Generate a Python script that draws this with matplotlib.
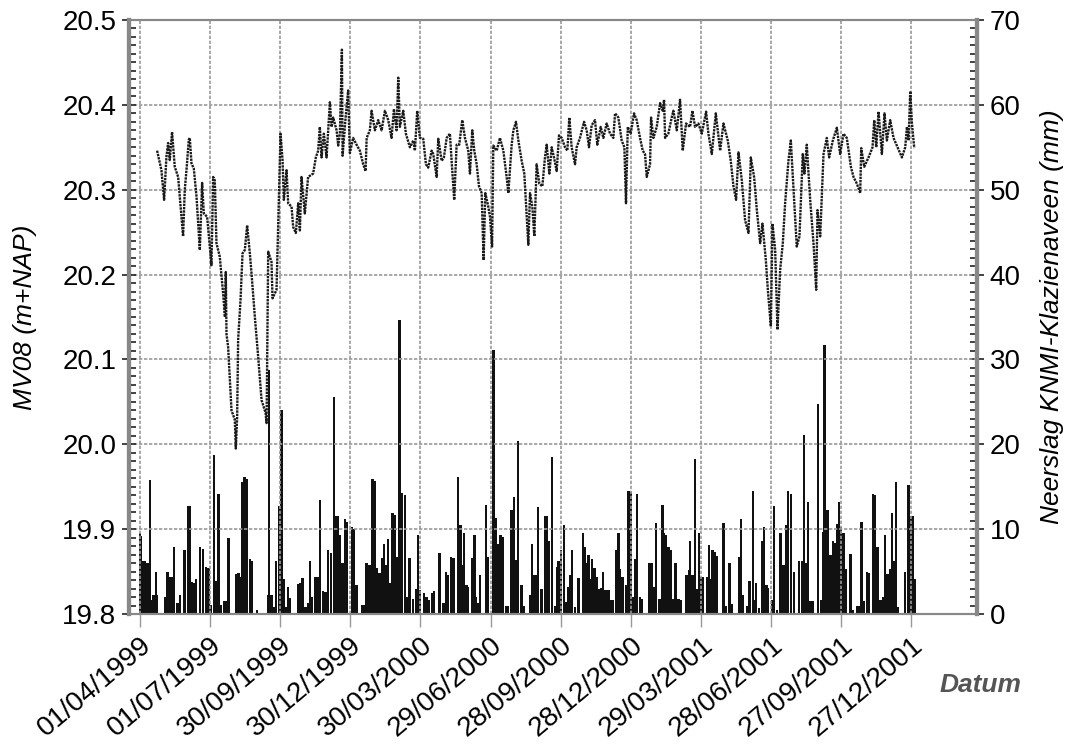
import matplotlib
matplotlib.use('Agg')
import matplotlib.pyplot as plt
from matplotlib.ticker import MultipleLocator
import numpy as np
import pandas as pd

plt.rcParams['font.family'] = ['Liberation Sans', 'DejaVu Sans']

start = pd.Timestamp('1999-04-01')

# grondwaterstand MV08 (m+NAP), dag na 01/04/1999
lvl_day = [22.5, 28.1, 31.6, 34.6, 36.8, 38.9, 41.9, 45.4, 49.8, 51.9, 56.2, 58.4, 60.6, 63.6,
           64.9, 67.1, 70.1, 73.6, 77.9, 80.9, 83.1, 87.4, 90.9, 93.0, 95.2, 97.3, 99.5, 103.8,
           108.1, 110.5, 111.6, 112.5, 114.6, 119.0, 123.3, 124.6, 126.3, 127.6, 130.7, 133.3,
           136.3, 139.3, 142.8, 145.0, 149.3, 153.6, 158.0, 163.2, 164.5, 166.6, 170.9, 172.2,
           177.4, 180.8, 182.6, 185.2, 186.9, 190.4, 192.5, 196.9, 199.0, 202.5, 205.5, 207.7,
           209.8, 214.1, 218.4, 224.9, 228.4, 231.4, 233.6, 235.8, 238.8, 242.3, 246.6, 248.8,
           250.9, 255.3, 257.4, 259.6, 262.2, 263.1, 267.0, 270.3, 272.5, 276.8, 281.2, 285.5,
           289.8, 292.9, 294.3, 298.5, 300.7, 305.0, 309.3, 313.7, 318.0, 322.3, 326.6, 329.7,
           333.1, 335.3, 337.4, 341.8, 345.2, 350.4, 354.8, 356.9, 359.9, 363.4, 367.7, 371.2,
           374.2, 378.6, 380.7, 385.1, 387.2, 391.6, 394.5, 398.1, 402.3, 404.5, 407.9, 411.0,
           414.4, 418.3, 421.8, 426.1, 428.3, 431.3, 433.9, 437.0, 440.0, 443.5, 446.0, 448.2,
           452.1, 454.3, 457.0, 458.6, 463.0, 467.2, 471.6, 475.9, 478.1, 482.4, 484.6, 488.0,
           491.1, 495.4, 498.8, 501.0, 504.0, 506.2, 509.2, 511.8, 514.8, 518.3, 522.2, 525.6,
           527.8, 531.3, 534.3, 537.3, 540.8, 543.8, 547.3, 551.6, 554.6, 557.2, 560.2, 564.6,
           566.7, 571.0, 576.3, 579.7, 582.7, 586.2, 590.5, 593.5, 597.9, 601.3, 605.6, 610.0,
           614.3, 616.5, 620.8, 625.1, 628.6, 630.7, 633.0, 636.8, 641.1, 644.6, 648.9, 652.4,
           655.4, 657.6, 661.9, 663.2, 666.2, 670.6, 674.9, 678.4, 680.1, 681.4, 685.6, 690.0,
           692.2, 696.6, 700.8, 704.3, 708.6, 713.8, 716.8, 720.3, 724.6, 729.0, 734.6, 737.6,
           742.0, 747.2, 752.8, 757.1, 762.7, 766.6, 770.1, 773.5, 776.6, 780.9, 785.2, 789.6,
           792.6, 796.9, 800.4, 804.7, 807.7, 812.1, 814.7, 818.6, 820.7, 824.2, 827.2, 830.6,
           834.1, 837.1, 841.4, 844.5, 847.1, 850.1, 852.2, 855.7, 860.0, 862.2, 865.2, 869.6,
           873.9, 877.4, 879.1, 882.6, 886.9, 891.2, 894.2, 899.0, 904.2, 908.5, 912.8, 917.1,
           922.4, 925.8, 930.2, 934.5, 935.8, 939.7, 945.3, 950.5, 952.7, 955.3, 958.3, 962.6,
           966.0, 969.1, 973.4, 977.7, 982.9, 988.6, 992.9, 995.1, 997.2, 999.4, 1001.6, 1004.6]
lvl_val = [20.346, 20.323, 20.288, 20.339, 20.355, 20.335, 20.368, 20.327, 20.315, 20.292, 20.245,
           20.300, 20.323, 20.359, 20.361, 20.331, 20.325, 20.292, 20.229, 20.308, 20.272, 20.268,
           20.233, 20.211, 20.315, 20.311, 20.237, 20.221, 20.178, 20.150, 20.203, 20.130, 20.115,
           20.040, 20.029, 19.995, 20.031, 20.123, 20.170, 20.225, 20.229, 20.258, 20.225, 20.201,
           20.150, 20.103, 20.052, 20.037, 20.025, 20.227, 20.215, 20.172, 20.182, 20.300, 20.366,
           20.335, 20.288, 20.323, 20.284, 20.280, 20.256, 20.249, 20.284, 20.252, 20.315, 20.272,
           20.315, 20.319, 20.338, 20.346, 20.374, 20.338, 20.366, 20.338, 20.403, 20.374, 20.385,
           20.370, 20.352, 20.366, 20.465, 20.340, 20.385, 20.417, 20.343, 20.361, 20.353, 20.346,
           20.330, 20.322, 20.361, 20.370, 20.393, 20.370, 20.382, 20.370, 20.393, 20.382, 20.361,
           20.395, 20.370, 20.432, 20.374, 20.393, 20.366, 20.350, 20.358, 20.346, 20.393, 20.361,
           20.360, 20.330, 20.326, 20.346, 20.342, 20.315, 20.360, 20.334, 20.338, 20.361, 20.366,
           20.334, 20.288, 20.353, 20.353, 20.382, 20.361, 20.346, 20.319, 20.370, 20.346, 20.330,
           20.304, 20.296, 20.217, 20.296, 20.280, 20.268, 20.233, 20.352, 20.346, 20.361, 20.346,
           20.315, 20.296, 20.353, 20.370, 20.380, 20.358, 20.334, 20.319, 20.284, 20.235, 20.296,
           20.280, 20.245, 20.330, 20.307, 20.304, 20.338, 20.353, 20.319, 20.350, 20.338, 20.322,
           20.364, 20.361, 20.350, 20.346, 20.385, 20.350, 20.330, 20.350, 20.361, 20.380, 20.370,
           20.350, 20.376, 20.382, 20.353, 20.374, 20.361, 20.378, 20.366, 20.361, 20.390, 20.385,
           20.358, 20.350, 20.284, 20.374, 20.366, 20.390, 20.382, 20.361, 20.346, 20.342, 20.315,
           20.330, 20.385, 20.361, 20.374, 20.402, 20.393, 20.406, 20.361, 20.366, 20.385, 20.393,
           20.370, 20.406, 20.346, 20.378, 20.374, 20.393, 20.374, 20.378, 20.366, 20.392, 20.366,
           20.342, 20.390, 20.346, 20.378, 20.358, 20.334, 20.304, 20.288, 20.344, 20.311, 20.264,
           20.249, 20.338, 20.315, 20.276, 20.237, 20.260, 20.217, 20.182, 20.139, 20.260, 20.229,
           20.135, 20.205, 20.237, 20.284, 20.334, 20.358, 20.315, 20.268, 20.233, 20.245, 20.342,
           20.319, 20.353, 20.288, 20.237, 20.182, 20.276, 20.245, 20.342, 20.361, 20.338, 20.358,
           20.373, 20.342, 20.366, 20.361, 20.327, 20.315, 20.307, 20.296, 20.349, 20.327, 20.338,
           20.350, 20.382, 20.350, 20.392, 20.342, 20.390, 20.358, 20.382, 20.361, 20.350, 20.338,
           20.350, 20.374, 20.358, 20.416, 20.378, 20.349]

# neerslag KNMI-Klazienaveen (mm), dag na 01/04/1999
rain_day = [0, 2, 4, 7, 10, 13, 15, 18, 21, 22, 33, 36, 39, 41, 44, 49, 52, 57, 59, 63, 65, 67, 70,
            73, 78, 82, 86, 89, 92, 96, 99, 102, 105, 109, 112, 115, 125, 128, 130, 133, 136, 139,
            143, 146, 152, 166, 168, 171, 174, 177, 181, 184, 187, 189, 192, 195, 205, 208, 211,
            215, 218, 221, 223, 228, 231, 234, 238, 241, 244, 248, 252, 254, 257, 260, 263, 266,
            269, 275, 278, 281, 288, 291, 294, 298, 302, 305, 308, 311, 314, 317, 319, 322, 325,
            328, 331, 334, 337, 340, 344, 347, 350, 354, 358, 361, 363, 369, 372, 375, 379, 382,
            389, 394, 397, 400, 404, 407, 413, 416, 419, 421, 424, 426, 431, 434, 436, 438, 441,
            449, 452, 459, 462, 465, 468, 471, 475, 478, 482, 485, 488, 491, 495, 498, 506, 509,
            512, 514, 517, 521, 526, 528, 530, 535, 539, 541, 543, 546, 550, 553, 556, 558, 561,
            565, 569, 575, 577, 579, 582, 584, 587, 590, 593, 596, 598, 601, 604, 608, 610, 613,
            618, 621, 623, 626, 631, 634, 637, 639, 642, 645, 649, 651, 661, 664, 667, 670, 674,
            678, 680, 683, 686, 689, 692, 695, 699, 702, 709, 712, 714, 717, 720, 723, 725, 728,
            731, 736, 738, 740, 743, 746, 749, 757, 760, 765, 768, 777, 780, 782, 788, 791, 795,
            797, 799, 803, 807, 810, 813, 815, 820, 823, 827, 831, 835, 838, 841, 845, 849, 855,
            859, 862, 865, 867, 870, 873, 880, 884, 886, 888, 891, 893, 896, 899, 902, 905, 907,
            910, 913, 916, 922, 925, 930, 933, 936, 939, 943, 946, 951, 954, 957, 961, 964, 967,
            970, 973, 976, 979, 981, 983, 993, 997, 1000, 1003, 1006]
rain_mm = [9.5, 9.2, 6.2, 6.2, 6.0, 15.8, 1.6, 2.2, 4.9, 2.2, 2.0, 4.9, 4.4, 4.4, 7.9, 1.3, 2.2, 7.5,
           7.5, 12.7, 12.7, 3.8, 3.6, 4.1, 7.9, 7.7, 5.6, 5.4, 1.1, 18.7, 3.9, 14.2, 1.1, 1.5, 1.5,
           8.9, 4.7, 4.8, 4.4, 15.5, 16.2, 15.9, 6.5, 6.2, 0.5, 2.2, 28.8, 2.2, 0.8, 6.3, 12.7, 24.0,
           4.1, 0.8, 3.2, 1.9, 3.5, 3.6, 4.2, 0.8, 1.3, 6.3, 2.0, 4.4, 4.4, 13.4, 2.7, 2.6, 7.5, 7.2,
           25.6, 11.5, 11.5, 9.3, 6.0, 11.2, 10.9, 10.3, 10.0, 3.4, 1.1, 1.1, 6.0, 5.8, 15.9, 15.7,
           5.4, 4.8, 6.6, 8.2, 5.8, 8.8, 3.6, 11.9, 11.7, 6.7, 34.6, 14.3, 14.0, 2.0, 6.6, 1.8, 3.0,
           9.3, 2.8, 2.5, 2.0, 1.7, 2.5, 2.7, 7.2, 1.3, 5.0, 4.6, 6.7, 6.6, 16.2, 10.5, 5.8, 9.5,
           3.4, 3.2, 6.6, 9.3, 2.0, 1.3, 4.6, 12.8, 6.7, 31.1, 11.3, 8.2, 9.3, 9.1, 0.9, 0.9, 12.2,
           13.8, 6.4, 20.4, 3.4, 1.0, 2.2, 8.2, 4.6, 4.6, 12.6, 3.0, 11.5, 11.5, 8.6, 18.5, 0.9,
           5.6, 6.2, 7.5, 10.5, 1.4, 3.2, 4.6, 7.5, 0.8, 4.2, 9.5, 7.9, 6.0, 6.9, 4.1, 6.5, 5.4,
           4.4, 3.0, 3.1, 4.9, 2.8, 2.8, 1.7, 1.7, 7.5, 9.5, 5.3, 4.4, 3.4, 14.5, 14.4, 2.0, 6.5,
           14.2, 2.0, 1.8, 6.0, 6.0, 3.2, 10.7, 1.8, 12.9, 9.5, 9.3, 7.9, 7.6, 1.8, 6.0, 1.8, 1.6,
           4.6, 5.2, 8.6, 4.6, 18.3, 3.0, 9.5, 4.4, 4.4, 4.4, 8.1, 4.1, 7.5, 7.3, 6.8, 10.7, 1.0,
           6.0, 1.2, 6.7, 11.2, 2.2, 1.0, 3.9, 14.5, 1.6, 3.6, 0.7, 8.6, 10.3, 3.4, 3.1, 1.6, 12.7,
           0.5, 9.5, 5.8, 10.5, 14.5, 14.2, 5.0, 6.2, 6.2, 21.1, 6.0, 13.2, 1.5, 1.5, 24.8, 1.7,
           9.7, 31.7, 12.3, 12.3, 6.9, 8.6, 8.4, 10.6, 13.2, 10.3, 9.6, 5.3, 7.1, 0.5, 1.0, 1.0,
           10.8, 1.5, 5.0, 4.8, 14.2, 14.0, 7.9, 1.6, 2.0, 9.3, 4.7, 5.3, 11.9, 6.3, 15.5, 0.8,
           4.9, 15.2, 11.6, 11.5, 4.1]

lvl_dates = start + pd.to_timedelta(lvl_day, unit='D')
rain_dates = start + pd.to_timedelta(rain_day, unit='D')
tick_dates = [start + pd.Timedelta(days=91 * i) for i in range(12)]

fig = plt.figure(figsize=(10.81, 7.45), dpi=100)
ax1 = fig.add_axes([0.1193, 0.1758, 0.7845, 0.7974])
ax2 = ax1.twinx()

ax2.bar(rain_dates, rain_mm, width=3.0, color='#111111', align='center', zorder=2)
ax1.plot(lvl_dates, lvl_val, color='#1a1a1a', lw=1.7, linestyle=(0, (1, 0.4)), zorder=3)

ax1.set_zorder(ax2.get_zorder() + 1)
ax1.patch.set_visible(False)

ax1.set_ylim(19.8, 20.5)
ax2.set_ylim(0, 70)
ax1.set_xlim(start - pd.Timedelta(days=14), start + pd.Timedelta(days=1086))

ax1.yaxis.set_minor_locator(MultipleLocator(0.01))
ax2.yaxis.set_major_locator(MultipleLocator(10))
ax2.yaxis.set_minor_locator(MultipleLocator(1))
ax1.set_yticks(np.arange(19.8, 20.51, 0.1))
ax1.set_yticklabels(['%.1f' % v for v in np.arange(19.8, 20.51, 0.1)])

ax1.set_xticks(tick_dates)
ax1.set_xticklabels([d.strftime('%d/%m/%Y') for d in tick_dates], rotation=40,
                    ha='right', va='top', rotation_mode='anchor')

ax1.grid(True, which='major', color='#999999', linestyle=(0, (2, 1)), lw=1.2)

for ax in (ax1, ax2):
    for s in ax.spines.values():
        s.set_color('#888888')
        s.set_linewidth(1.5)
    ax.spines['left'].set_linewidth(3)
    ax.spines['right'].set_linewidth(3)

ax1.tick_params(axis='y', which='major', direction='inout', length=10, width=1.2,
                labelsize=20, color='#222222', pad=4)
ax1.tick_params(axis='y', which='minor', direction='in', length=5, width=1.2, color='#222222')
ax2.tick_params(axis='y', which='major', direction='inout', length=10, width=1.2,
                labelsize=20, color='#222222', pad=4)
ax2.tick_params(axis='y', which='minor', direction='in', length=5, width=1.2, color='#222222')
ax1.tick_params(axis='x', which='major', direction='out', length=9, width=1.0,
                labelsize=20, color='#999999', pad=4)

ax1.set_ylabel('MV08 (m+NAP)', fontsize=19, style='italic', labelpad=18)
ax2.set_ylabel('Neerslag KNMI-Klazienaveen (mm)', fontsize=19, style='italic',
               rotation=90, labelpad=14)

fig.text(0.945, 0.08, 'Datum', fontsize=19, fontweight='bold', style='italic',
         color='#555555', ha='right', va='center')

plt.savefig('out.png', dpi=100)
